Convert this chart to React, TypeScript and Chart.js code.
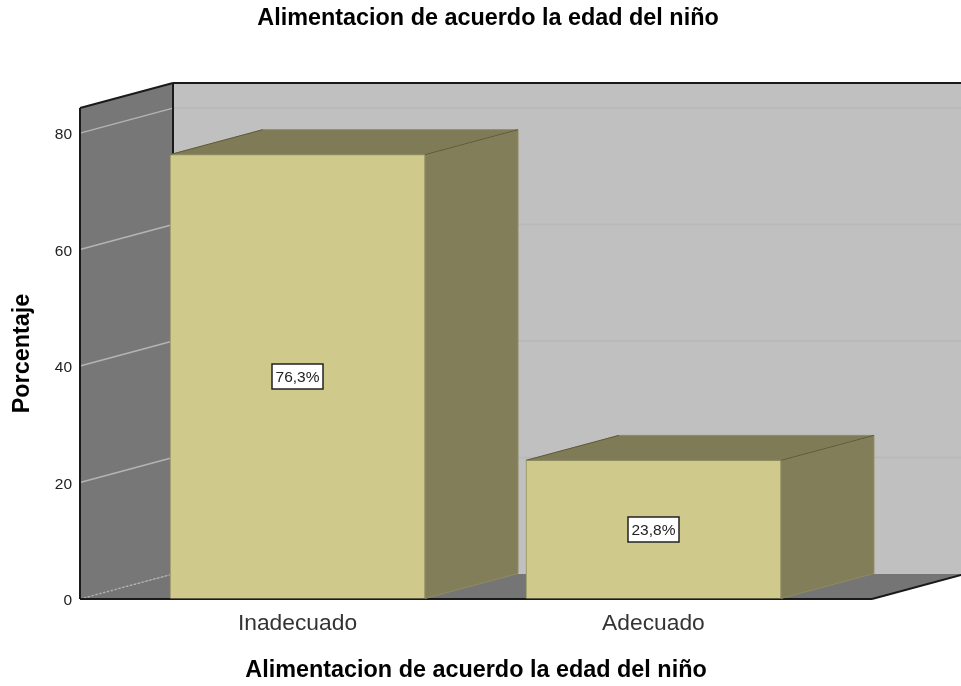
import React, { useEffect, useRef } from "react";
import { Chart, registerables } from "chart.js";

Chart.register(...registerables);

const titleText = "Alimentacion de acuerdo la edad del niño";
const yAxisTitle = "Porcentaje";
const categories = ["Inadecuado", "Adecuado"];
const percentages = [76.3, 23.8];
const yTicks = [0, 20, 40, 60, 80];

const FONT = "'Liberation Sans', Arial, sans-serif";
const DEPTH_X = 93;
const DEPTH_Y = 25;
const X_MIN = -0.611;
const X_MAX = 1.614;
const Y_MAX = 84.3;

const COLORS = {
  backWall: "#c0c0c0",
  sideWall: "#777777",
  floor: "#757575",
  backGrid: "#b9b9b9",
  sideGrid: "#b4b4b4",
  frame: "#1a1a1a",
  barFront: "#cfca8c",
  barTop: "#7f7b57",
  barSide: "#827e59",
  barEdge: "#8f8b60",
  barEdgeDark: "#5c593c",
};

function poly(ctx: CanvasRenderingContext2D, pts: number[][], fill?: string, stroke?: string, w = 1) {
  ctx.beginPath();
  pts.forEach((p, i) => (i ? ctx.lineTo(p[0], p[1]) : ctx.moveTo(p[0], p[1])));
  ctx.closePath();
  if (fill) {
    ctx.fillStyle = fill;
    ctx.fill();
  }
  if (stroke) {
    ctx.strokeStyle = stroke;
    ctx.lineWidth = w;
    ctx.stroke();
  }
}

function line(ctx: CanvasRenderingContext2D, x1: number, y1: number, x2: number, y2: number, color: string, w = 1) {
  ctx.beginPath();
  ctx.moveTo(x1, y1);
  ctx.lineTo(x2, y2);
  ctx.strokeStyle = color;
  ctx.lineWidth = w;
  ctx.stroke();
}

// Box walls, floor and gridlines behind the bars, plus the depth faces of each bar.
const box3d = {
  id: "box3d",
  beforeDatasetsDraw(chart: any) {
    const { ctx, chartArea: a, scales } = chart;
    const y = scales.y;
    const l = a.left;
    const r = a.right;
    const b = a.bottom;
    const t = a.top;
    const w = chart.width;
    ctx.save();
    poly(ctx, [[l + DEPTH_X, t - DEPTH_Y], [w, t - DEPTH_Y], [w, b - DEPTH_Y], [l + DEPTH_X, b - DEPTH_Y]], COLORS.backWall);
    poly(ctx, [[l, t], [l + DEPTH_X, t - DEPTH_Y], [l + DEPTH_X, b - DEPTH_Y], [l, b]], COLORS.sideWall);
    poly(ctx, [[l, b], [l + DEPTH_X, b - DEPTH_Y], [r + DEPTH_X, b - DEPTH_Y], [r, b]], COLORS.floor);

    yTicks.forEach((v) => {
      const py = y.getPixelForValue(v);
      if (v === 0) {
        ctx.setLineDash([2, 2]);
        line(ctx, l, py, l + DEPTH_X, py - DEPTH_Y, "#b0b0b0", 1.5);
        ctx.setLineDash([]);
      } else {
        line(ctx, l, py, l + DEPTH_X, py - DEPTH_Y, COLORS.sideGrid, 1.5);
        line(ctx, l + DEPTH_X, py - DEPTH_Y, w, py - DEPTH_Y, COLORS.backGrid, 2);
      }
    });

    line(ctx, l, t, l, b, COLORS.frame, 2);
    line(ctx, l, t, l + DEPTH_X, t - DEPTH_Y, COLORS.frame, 2);
    line(ctx, l + DEPTH_X, t - DEPTH_Y, w, t - DEPTH_Y, COLORS.frame, 2);
    line(ctx, l + DEPTH_X, t - DEPTH_Y, l + DEPTH_X, b - DEPTH_Y, COLORS.frame, 2);
    line(ctx, l, b, r, b, COLORS.frame, 2);
    line(ctx, r, b, r + DEPTH_X, b - DEPTH_Y, COLORS.frame, 2);

    chart.getDatasetMeta(0).data.forEach((bar: any) => {
      const left = bar.x - bar.width / 2;
      const right = bar.x + bar.width / 2;
      const top = bar.y;
      const base = bar.base;
      poly(ctx, [[right, base], [right + DEPTH_X, base - DEPTH_Y], [right + DEPTH_X, top - DEPTH_Y], [right, top]], COLORS.barSide, COLORS.barEdge);
      poly(ctx, [[left, top], [left + DEPTH_X, top - DEPTH_Y], [right + DEPTH_X, top - DEPTH_Y], [right, top]], COLORS.barTop, COLORS.barEdge);
      line(ctx, left, top, left + DEPTH_X, top - DEPTH_Y, COLORS.barEdgeDark);
      line(ctx, right, top, right + DEPTH_X, top - DEPTH_Y, COLORS.barEdgeDark);
    });
    ctx.restore();
  },
  afterDatasetsDraw(chart: any) {
    const { ctx } = chart;
    ctx.save();
    ctx.font = `15.5px ${FONT}`;
    ctx.textAlign = "center";
    ctx.textBaseline = "middle";
    chart.getDatasetMeta(0).data.forEach((bar: any, i: number) => {
      const text = `${percentages[i].toFixed(1).replace(".", ",")}%`;
      const cy = (bar.y + bar.base) / 2;
      const bw = 51;
      const bh = 25;
      ctx.fillStyle = "#ffffff";
      ctx.strokeStyle = "#222222";
      ctx.lineWidth = 1.5;
      ctx.fillRect(Math.round(bar.x - bw / 2), Math.round(cy - bh / 2), bw, bh);
      ctx.strokeRect(Math.round(bar.x - bw / 2), Math.round(cy - bh / 2), bw, bh);
      ctx.fillStyle = "#222222";
      ctx.fillText(text, bar.x, cy + 1);
    });
    ctx.restore();
  },
};

export default function App() {
  const ref = useRef<HTMLCanvasElement>(null);
  useEffect(() => {
    const chart = new Chart(ref.current!, {
      type: "bar",
      data: {
        labels: categories,
        datasets: [
          {
            data: percentages.map((v, i) => ({ x: i, y: v })),
            backgroundColor: COLORS.barFront,
            borderColor: COLORS.barEdge,
            borderWidth: 1,
            barThickness: 255,
          },
        ],
      },
      plugins: [box3d],
      options: {
        responsive: false,
        animation: false,
        layout: { padding: { left: 15, right: 0, top: 5, bottom: 1 } },
        plugins: {
          legend: { display: false },
          tooltip: { enabled: false },
          title: {
            display: true,
            text: titleText,
            color: "#000000",
            font: { family: FONT, size: 23.4, weight: "bold" },
            padding: { top: 0, bottom: 75 },
          },
        },
        scales: {
          x: {
            type: "linear",
            offset: false,
            min: X_MIN,
            max: X_MAX,
            afterBuildTicks: (s: any) => {
              s.ticks = categories.map((_, i) => ({ value: i }));
            },
            afterFit: (s: any) => {
              s.height = 86;
            },
            grid: { display: false, offset: false },
            border: { display: false },
            ticks: {
              autoSkip: false,
              maxRotation: 0,
              padding: 3,
              color: "#333333",
              font: { family: FONT, size: 22.8 },
              callback: (v: any) => categories[v],
            },
            title: {
              display: true,
              text: titleText,
              color: "#000000",
              font: { family: FONT, size: 23.4, weight: "bold" },
              padding: { top: 10, bottom: 0 },
            },
          },
          y: {
            min: 0,
            max: Y_MAX,
            afterBuildTicks: (s: any) => {
              s.ticks = yTicks.map((value) => ({ value }));
            },
            afterFit: (s: any) => {
              s.width = 65;
            },
            grid: { drawOnChartArea: false, drawTicks: false },
            border: { display: false },
            ticks: {
              padding: 8,
              labelOffset: 2,
              color: "#222222",
              font: { family: FONT, size: 15.5 },
            },
            title: {
              display: true,
              text: yAxisTitle,
              color: "#000000",
              font: { family: FONT, size: 23.4, weight: "bold" },
              padding: { top: -6, bottom: 0 },
            },
          },
          rightGutter: {
            position: "right",
            display: true,
            afterFit: (s: any) => {
              s.width = 89;
            },
            grid: { display: false },
            border: { display: false },
            ticks: { display: false },
          },
        },
      },
    } as any);
    return () => chart.destroy();
  }, []);
  return (
    <canvas
      ref={ref}
      width={961}
      height={686}
      style={{ position: "fixed", left: 0, top: 0, display: "block" }}
    />
  );
}
